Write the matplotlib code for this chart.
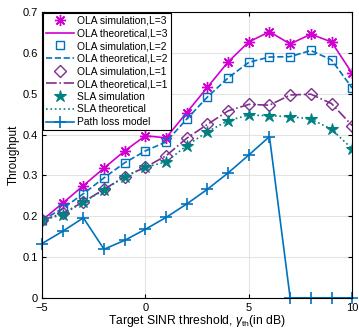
import matplotlib
matplotlib.use('Agg')
import matplotlib.pyplot as plt
import numpy as np

plt.rcParams['font.family'] = ['Liberation Sans', 'DejaVu Sans']
plt.rcParams['mathtext.fontset'] = 'custom'
plt.rcParams['mathtext.rm'] = 'Liberation Sans'
plt.rcParams['mathtext.it'] = 'Liberation Sans:italic'

# SINR thresholds (dB)
x = np.arange(-5, 11)

ola3 = [0.190, 0.232, 0.275, 0.318, 0.360, 0.397, 0.392, 0.454, 0.516, 0.578,
        0.627, 0.652, 0.622, 0.646, 0.627, 0.550]
ola2 = [0.190, 0.219, 0.255, 0.294, 0.331, 0.360, 0.382, 0.438, 0.492, 0.539,
        0.577, 0.590, 0.591, 0.606, 0.583, 0.514]
ola1 = [0.190, 0.207, 0.235, 0.266, 0.297, 0.320, 0.348, 0.391, 0.425, 0.458,
        0.474, 0.472, 0.497, 0.499, 0.476, 0.422]
sla = [0.190, 0.204, 0.235, 0.264, 0.297, 0.320, 0.333, 0.373, 0.407, 0.434,
       0.448, 0.446, 0.444, 0.438, 0.413, 0.365]
pathloss = [0.133, 0.163, 0.196, 0.119, 0.141, 0.168, 0.197, 0.230, 0.266, 0.306,
            0.350, 0.395, 0.0, 0.0, 0.0, 0.0]

magenta = '#D000D0'
blue = '#0072BD'
purple = '#7E2F8E'
teal = '#008080'

fig = plt.figure(figsize=(3.59, 3.28), dpi=100)
ax = fig.add_axes([0.117, 0.092, 0.864, 0.871])

ax.plot(x, ola3, linestyle='none', marker=(8, 2, 0), color=magenta, ms=8, mew=1,
        label='OLA simulation,L=3')
ax.plot(x, ola3, '-', color=magenta, lw=1.2, label='OLA theoretical,L=3')
ax.plot(x, ola2, linestyle='none', marker='s', color=blue, mfc='none', ms=6, mew=1,
        label='OLA simulation,L=2')
ax.plot(x, ola2, '--', color=blue, lw=1.2, label='OLA theoretical,L=2')
ax.plot(x, ola1, linestyle='none', marker='D', color=purple, mfc='none', ms=6, mew=1,
        label='OLA simulation,L=1')
ax.plot(x, ola1, '-.', color=purple, lw=1.2, label='OLA theoretical,L=1')
ax.plot(x, sla, linestyle='none', marker='*', color=teal, ms=9, mew=0.8,
        label='SLA simulation')
ax.plot(x, sla, ':', color=teal, lw=1.2, label='SLA theoretical')
ax.plot(x, pathloss, '-', marker='+', color=blue, ms=9, mew=1.2, lw=1.2,
        label='Path loss model', clip_on=False)

ax.set_xlim(-5, 10)
ax.set_ylim(0, 0.7)
ax.set_xticks([-5, 0, 5, 10])
ax.set_yticks(np.arange(0, 0.71, 0.1))
ax.set_yticklabels(['0', '0.1', '0.2', '0.3', '0.4', '0.5', '0.6', '0.7'])
ax.grid(True, color='#e3e3e3', lw=0.8)
ax.set_axisbelow(True)
ax.tick_params(direction='in', labelsize=8, length=3, top=True, right=True)
ax.tick_params(axis='x', pad=3.5)
ax.tick_params(axis='y', pad=3)
for s in ax.spines.values():
    s.set_linewidth(0.8)
ax.set_xlabel(r'Target SINR threshold, $\gamma_{\rm th}$(in dB)', fontsize=8.7)
ax.xaxis.set_label_coords(0.5, -0.053, transform=ax.transAxes)
ax.xaxis.label.set_va('top')
ax.set_ylabel('Throughput', fontsize=8.5, labelpad=2)

leg = ax.legend(loc='upper left', fontsize=7.4, frameon=True, fancybox=False,
                edgecolor='black', framealpha=1, borderaxespad=0.05,
                handlelength=2.8, handletextpad=0.3, labelspacing=0.26,
                borderpad=0.3)
leg.get_frame().set_linewidth(0.8)

fig.savefig('out.png', dpi=100)
